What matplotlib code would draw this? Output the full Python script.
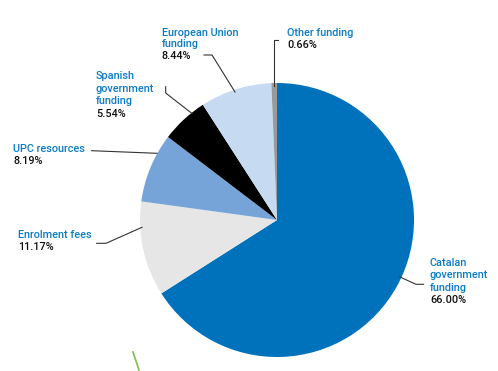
import matplotlib.pyplot as plt
from matplotlib.lines import Line2D

labels = ['Catalan\ngovernment\nfunding', 'Enrolment fees', 'UPC resources',
          'Spanish\ngovernment\nfunding', 'European Union\nfunding', 'Other funding']
values = [66.00, 11.17, 8.19, 5.54, 8.44, 0.66]
colors = ['#0071bb', '#e6e6e6', '#77a4d8', '#000000', '#c6daf2', '#9a9a9a']

W, H = 498, 371
cx, cy, r = 277, 220, 137
blue = '#0a7cc4'


def pix(px, py):
    # pixel position -> pie data coords
    return (px - cx) / r, (cy - py) / r


# first baseline of each label (pixels) and line pitch
label_pos = [(430, 266), (18, 238), (13, 152), (96, 79), (162, 35.5), (287, 35.5)]
pitch = [12.3, 12.3, 12.0, 12.6, 11.7, 12.0]
leaders = [
    [(400, 277), (416, 284.3), (423.5, 284.3)],
    [(142, 227.3), (106, 243.3), (96.7, 243.3)],
    [(157, 153.3), (91.7, 150.7)],
    [(192, 113.5), (165.7, 93), (165.7, 86.7)],
    [(235, 92), (212, 55), (204, 55)],
    [(274, 86), (274, 40), (278, 40)],
]

plt.rcParams['font.family'] = ['Roboto', 'DejaVu Sans']

fig = plt.figure(figsize=(W / 100, H / 100), dpi=100)
ax = fig.add_axes([(cx - r) / W, (H - cy - r) / H, 2 * r / W, 2 * r / H])
ax.pie(values, colors=colors, startangle=90, counterclock=False, radius=1,
       wedgeprops=dict(linewidth=0))
ax.set_xlim(-1, 1)
ax.set_ylim(-1, 1)
ax.axis('off')

for lab, val, (lx, ly), lh, pts in zip(labels, values, label_pos, pitch, leaders):
    rows = lab.split('\n')
    for i, row in enumerate(rows):
        x, y = pix(lx, ly + i * lh)
        ax.text(x, y, row, color=blue, fontsize=7.8, fontweight='medium',
                ha='left', va='baseline', clip_on=False)
    x, y = pix(lx, ly + len(rows) * lh)
    ax.text(x, y, f'{val:.2f}%', color='#111111', fontsize=7.8,
            fontweight='medium', ha='left', va='baseline', clip_on=False)
    xs, ys = zip(*[pix(px, py) for px, py in pts])
    ax.plot(xs, ys, color='#333333', lw=0.8, clip_on=False)

# stray green stroke from the original
fig.add_artist(Line2D([133 / W, 139 / W], [1 - 352 / H, 1 - 370 / H],
                      color='#7cc04a', lw=1.2))

fig.savefig('out.png', dpi=100)
